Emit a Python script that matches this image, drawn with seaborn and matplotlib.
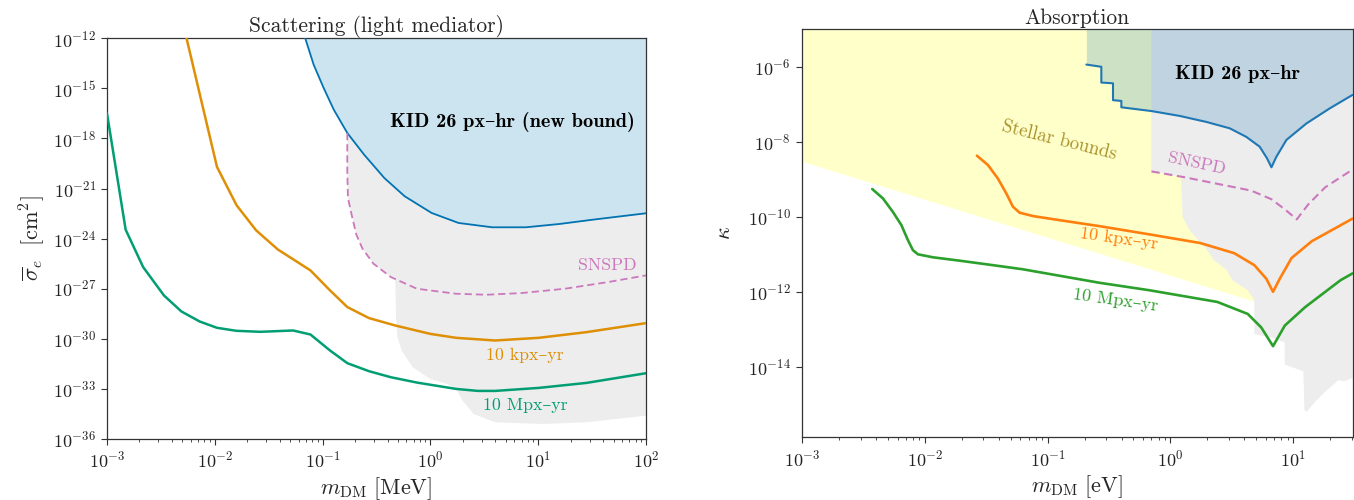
import numpy as np
import pandas as pd
import matplotlib
matplotlib.use("Agg")
import matplotlib.pyplot as plt
import seaborn as sns

# ---------------- data (log10 values) ----------------
# Left panel: scattering (light mediator), m_DM in MeV, sigma_e in cm^2
kid_scat_logm = [-1.161, -1.083, -0.990, -0.896, -0.771, -0.615, -0.427, -0.239, 0.011, 0.261, 0.573, 0.886, 1.199, 1.511, 2.0]
kid_scat_logs = [-12.0, -13.58, -14.98, -16.28, -17.67, -18.97, -20.37, -21.46, -22.46, -23.06, -23.32, -23.32, -23.12, -22.86, -22.48]

snspd_scat_logm = [-0.771, -0.771, -0.765, -0.724, -0.687, -0.63, -0.528, -0.367, -0.125, 0.238, 0.52, 0.843, 1.246, 1.649, 2.0]
snspd_scat_logs = [-17.67, -19.96, -21.56, -22.76, -23.76, -24.6, -25.5, -26.3, -27.0, -27.3, -27.36, -27.26, -27.0, -26.6, -26.2]

kpx_scat_logm = [-2.262, -1.98, -1.798, -1.617, -1.415, -1.113, -0.931, -0.77, -0.569, -0.327, -0.004, 0.238, 0.6, 1.004, 1.448, 2.0]
kpx_scat_logs = [-12.0, -19.7, -22.0, -23.5, -24.65, -25.9, -27.1, -28.1, -28.76, -29.2, -29.7, -29.94, -30.1, -29.94, -29.6, -29.06]

mpx_scat_logm = [-3.0, -2.827, -2.665, -2.472, -2.31, -2.141, -1.98, -1.80, -1.577, -1.274, -1.113, -0.931, -0.77, -0.569, -0.367, -0.125, 0.238, 0.44, 0.6, 1.004, 1.448, 2.0]
mpx_scat_logs = [-16.5, -23.46, -25.7, -27.4, -28.36, -28.96, -29.34, -29.52, -29.58, -29.5, -29.74, -30.7, -31.46, -31.94, -32.3, -32.62, -33.0, -33.12, -33.12, -32.94, -32.64, -32.06]

other_scat_logm = [-0.327, -0.319, -0.306, -0.266, -0.165, -0.004, 0.157, 0.238, 0.298, 0.40, 0.6, 1.044, 1.448, 2.0]
other_scat_logs = [-26.3, -28.7, -29.9, -30.7, -31.7, -32.4, -32.7, -33.0, -33.7, -34.5, -35.0, -35.1, -35.0, -34.6]

# Right panel: absorption, m_DM in eV, kappa
kid_abs_logm = [-0.685, -0.563, -0.563, -0.468, -0.468, -0.40, -0.40, -0.155, 0.075, 0.292, 0.482, 0.618, 0.726, 0.786, 0.822, 0.862, 0.944, 1.107, 1.296, 1.482]
kid_abs_logk = [-5.94, -6.0, -6.42, -6.44, -6.89, -6.91, -7.08, -7.18, -7.31, -7.47, -7.64, -7.87, -8.13, -8.44, -8.68, -8.4, -7.95, -7.51, -7.11, -6.75]

snspd_abs_logm = [-0.155, 0.106, 0.381, 0.656, 0.821, 0.931, 1.028, 1.124, 1.261, 1.482]
snspd_abs_logk = [-8.79, -8.94, -9.12, -9.3, -9.53, -9.8, -10.07, -9.66, -9.21, -8.74]

kpx_abs_logm = [-1.576, -1.486, -1.405, -1.336, -1.283, -1.228, -1.12, -0.902, -0.577, -0.169, 0.243, 0.519, 0.683, 0.78, 0.835, 0.89, 0.986, 1.151, 1.482]
kpx_abs_logk = [-8.37, -8.62, -8.98, -9.38, -9.73, -9.89, -9.98, -10.09, -10.25, -10.47, -10.7, -10.97, -11.29, -11.65, -12.0, -11.65, -11.1, -10.65, -10.05]

mpx_abs_logm = [-2.428, -2.341, -2.26, -2.191, -2.138, -2.097, -2.056, -1.934, -1.717, -1.445, -1.201, -0.577, -0.169, 0.381, 0.629, 0.739, 0.835, 0.931, 1.096, 1.385, 1.482]
mpx_abs_logk = [-9.26, -9.51, -9.87, -10.22, -10.62, -10.89, -11.0, -11.08, -11.17, -11.29, -11.40, -11.76, -11.96, -12.27, -12.59, -12.95, -13.45, -12.9, -12.41, -11.69, -11.51]

stellar_logm = [-3.0, 0.69, 0.69, -3.0]
stellar_logk = [-8.53, -12.27, -5.0, -5.0]

other_abs_logm = [-0.155, 1.482, 1.482, 1.410, 1.370, 1.261, 1.178, 1.109, 1.090, 1.082, 0.930, 0.930, 0.821, 0.683,
                  0.683, 0.629, 0.505, 0.458, 0.352, 0.299, 0.156, 0.099, 0.087, 0.087, -0.155]
other_abs_logk = [-5.0, -5.0, -14.30, -14.39, -14.35, -14.66, -14.93, -15.20, -15.15, -14.12, -13.94, -13.35, -13.22, -13.13,
                  -12.22, -11.96, -11.69, -11.42, -11.15, -10.89, -10.36, -10.01, -9.02, -8.93, -8.79]

# ---------------- style ----------------
sns.set_theme(style="ticks")
plt.rcParams["font.family"] = ["cmr10", "DejaVu Serif"]
plt.rcParams["mathtext.fontset"] = "cm"
plt.rcParams["axes.formatter.use_mathtext"] = True
plt.rcParams["axes.unicode_minus"] = False

cb = sns.color_palette("colorblind")
tab = sns.color_palette("tab10")
pink = "#cc78bc"
gray_fill = "#ededed"

def p10(v):
    return [10.0 ** x for x in v]

fig = plt.figure(figsize=(13.54, 5.0), dpi=100)
ax1 = fig.add_axes([107 / 1354, (500 - 439) / 500, (646 - 107) / 1354, (439 - 38.3) / 500])
ax2 = fig.add_axes([802 / 1354, (500 - 437.3) / 500, (1352.5 - 802) / 1354, (437.3 - 29.3) / 500])

def line(ax, xs, ys, color, lw, ls="-", z=5):
    df = pd.DataFrame({"x": p10(xs), "y": p10(ys)})
    sns.lineplot(data=df, x="x", y="y", ax=ax, color=color, lw=lw, linestyle=ls,
                 estimator=None, sort=False, zorder=z)

# ---------------- left panel ----------------
ax1.set_xscale("log")
ax1.set_yscale("log")
snspd_left_part = [(m, s) for m, s in zip(snspd_scat_logm, snspd_scat_logs) if m < other_scat_logm[0]]
poly_x = [snspd_scat_logm[0], other_scat_logm[-1]] + other_scat_logm[::-1] + [m for m, s in snspd_left_part[::-1]]
poly_y = [-12.0, -12.0] + other_scat_logs[::-1] + [s for m, s in snspd_left_part[::-1]]
ax1.fill(p10(poly_x), p10(poly_y), color=gray_fill, lw=0, zorder=1)
ax1.fill_between(p10(kid_scat_logm), p10(kid_scat_logs), 1e-12, color="#cce3f0", lw=0, zorder=2)

line(ax1, kid_scat_logm, kid_scat_logs, cb[0], 1.3)
line(ax1, snspd_scat_logm, snspd_scat_logs, pink, 1.3, ls=(0, (4, 2.2)))
line(ax1, kpx_scat_logm, kpx_scat_logs, cb[1], 1.8)
line(ax1, mpx_scat_logm, mpx_scat_logs, cb[2], 1.8)

ax1.set_xlim(1e-3, 1e2)
ax1.set_ylim(1e-36, 1e-12)
ax1.set_yticks([10.0 ** e for e in range(-36, -11, 3)])
ax1.yaxis.set_minor_locator(matplotlib.ticker.NullLocator())
ax1.set_xticks([10.0 ** e for e in range(-3, 3)])
ax1.set_title("Scattering (light mediator)", fontsize=15.5, pad=4)
ax1.set_xlabel(r"$m_{\mathrm{DM}}\ [\mathrm{MeV}]$", fontsize=16, labelpad=3)
ax1.set_ylabel(r"$\overline{\sigma}_e\ \ [\mathrm{cm}^2]$", fontsize=16, labelpad=4)

bold_fam = ["cmb10", "DejaVu Serif"]
ax1.text(10 ** 0.758, 10 ** -17.0, "KID 26 px–hr (new bound)", family=bold_fam,
         ha="center", va="center", fontsize=14.6, color="black", zorder=6)
ax1.text(10 ** 1.637, 10 ** -25.6, "SNSPD", ha="center", va="center", fontsize=12.8, color=pink, zorder=6)
ax1.text(10 ** 0.875, 10 ** -31.0, "10 kpx–yr", ha="center", va="center", fontsize=12.8, color=cb[1], zorder=6)
ax1.text(10 ** 0.883, 10 ** -34.0, "10 Mpx–yr", ha="center", va="center", fontsize=12.8, color=cb[2], zorder=6)

# ---------------- right panel ----------------
ax2.set_xscale("log")
ax2.set_yscale("log")
ax2.fill(p10(stellar_logm), p10(stellar_logk), color="#ffffca", lw=0, zorder=1)
ax2.fill(p10(other_abs_logm), p10(other_abs_logk), color=gray_fill, lw=0, zorder=2)
ax2.fill_between(p10(kid_abs_logm), p10(kid_abs_logk), 1e-5, color=tab[0], alpha=0.22, lw=0, zorder=3)

line(ax2, kid_abs_logm, kid_abs_logk, tab[0], 1.5)
line(ax2, snspd_abs_logm, snspd_abs_logk, pink, 1.5, ls=(0, (4, 2.2)))
line(ax2, kpx_abs_logm, kpx_abs_logk, tab[1], 1.9)
line(ax2, mpx_abs_logm, mpx_abs_logk, tab[2], 1.9)

ax2.set_xlim(1e-3, 10 ** 1.482)
ax2.set_ylim(10 ** -15.88, 1e-5)
ax2.set_yticks([10.0 ** e for e in range(-14, -5, 2)])
ax2.yaxis.set_minor_locator(matplotlib.ticker.NullLocator())
ax2.set_xticks([10.0 ** e for e in range(-3, 2)])
ax2.set_title("Absorption", fontsize=15.5, pad=4)
ax2.set_xlabel(r"$m_{\mathrm{DM}}\ [\mathrm{eV}]$", fontsize=16, labelpad=3)
ax2.set_ylabel(r"$\kappa$", fontsize=16, labelpad=10)

ax2.text(10 ** 0.542, 10 ** -6.18, "KID 26 px–hr", family=bold_fam,
         ha="center", va="center", fontsize=14.6, color="black", zorder=6)
ax2.text(10 ** -0.906, 10 ** -7.955, "Stellar bounds", ha="center", va="center", fontsize=13.5,
         color="#a8912a", rotation=-14, zorder=6)
ax2.text(10 ** 0.216, 10 ** -8.58, "SNSPD", ha="center", va="center", fontsize=12.8, color=pink,
         rotation=-12, zorder=6)
ax2.text(10 ** -0.423, 10 ** -10.58, "10 kpx–yr", ha="center", va="center", fontsize=13, color=tab[1],
         rotation=-8, zorder=6)
ax2.text(10 ** -0.448, 10 ** -12.22, "10 Mpx–yr", ha="center", va="center", fontsize=13, color=tab[2],
         rotation=-8, zorder=6)

for ax in (ax1, ax2):
    for sp in ax.spines.values():
        sp.set_visible(True)
        sp.set_color("#333333")
        sp.set_linewidth(0.9)
    ax.tick_params(which="major", direction="out", length=4.5, width=0.8, colors="#333333",
                   labelsize=13, labelcolor="#222222")
    ax.tick_params(which="minor", direction="out", length=2.5, width=0.6, colors="#333333")
    ax.set_facecolor("white")

fig.savefig("out.png", dpi=100)
